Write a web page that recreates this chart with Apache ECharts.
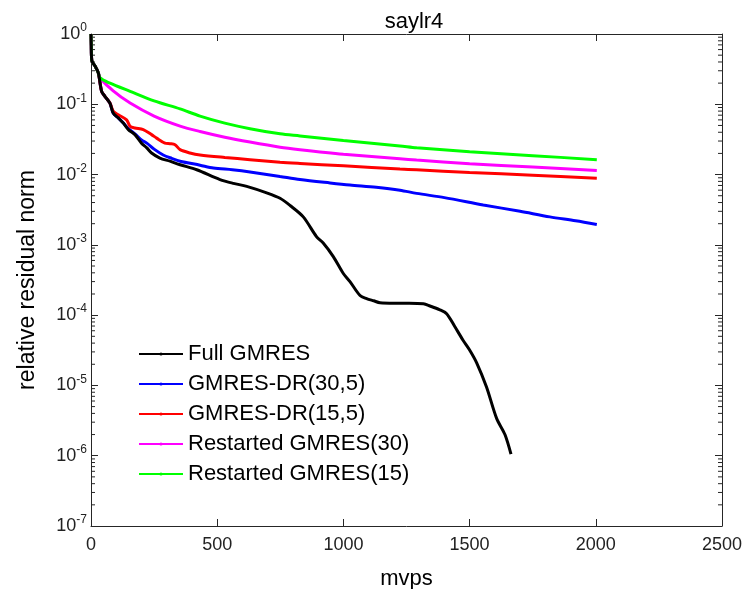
<!DOCTYPE html>
<html>
<head>
<meta charset="utf-8">
<script src="https://cdn.jsdelivr.net/npm/echarts@6/dist/echarts.min.js"></script>
<style>
  html, body { margin: 0; padding: 0; background: #fff; }
  #main { width: 743px; height: 589px; }
</style>
</head>
<body>
<div id="main"></div>
<script>
// x = mvps, y = relative residual norm
const fullX = [0, 1, 3, 16, 29, 42, 55, 75, 88, 108, 128, 148, 174, 200, 221, 240, 273, 313, 353, 419, 511, 564, 617, 696, 749, 790, 841, 894, 920, 960, 999, 1026, 1066, 1092, 1120, 1145, 1200, 1260, 1317, 1343, 1380, 1409, 1440, 1474, 1500, 1528, 1567, 1607, 1640, 1664]
const fullY = [1, 0.7, 0.42, 0.35, 0.28, 0.153, 0.13, 0.104, 0.075, 0.064, 0.054, 0.0436, 0.037, 0.028, 0.024, 0.0203, 0.0172, 0.0155, 0.0138, 0.0117, 0.0085, 0.0075, 0.0068, 0.0055, 0.0046, 0.0036, 0.0025, 0.0013, 0.00106, 0.00068, 0.000395, 0.0003, 0.00019, 0.000172, 0.00016, 0.00015, 0.000148, 0.000148, 0.000145, 0.000135, 0.00012, 0.000105, 0.00007, 0.000044, 0.000032, 0.000021, 0.0000095, 0.0000034, 0.000002, 0.00000105]

const dr30X = [0, 1, 3, 16, 29, 42, 55, 75, 88, 108, 128, 148, 174, 200, 221, 250, 286, 320, 353, 432, 485, 560, 630, 749, 828, 947, 1026, 1130, 1224, 1290, 1400, 1554, 1700, 1818, 1920, 2004]
const dr30Y = [1, 0.7, 0.42, 0.35, 0.28, 0.153, 0.13, 0.104, 0.075, 0.064, 0.054, 0.045, 0.038, 0.031, 0.028, 0.023, 0.019, 0.017, 0.0155, 0.0136, 0.0124, 0.0117, 0.0109, 0.0094, 0.0085, 0.0076, 0.0071, 0.0066, 0.006, 0.0054, 0.0047, 0.0037, 0.003, 0.0025, 0.0022, 0.00195]

const dr15X = [0, 1, 3, 16, 29, 42, 55, 75, 88, 108, 141, 155, 174, 207, 240, 260, 293, 313, 333, 353, 392, 432, 530, 630, 749, 828, 1000, 1224, 1290, 1500, 1750, 2004]
const dr15Y = [1, 0.7, 0.42, 0.35, 0.28, 0.153, 0.13, 0.104, 0.08, 0.071, 0.06, 0.0485, 0.046, 0.0436, 0.037, 0.033, 0.028, 0.0275, 0.0266, 0.0226, 0.0203, 0.019, 0.0175, 0.0163, 0.015, 0.0144, 0.0133, 0.012, 0.0117, 0.0107, 0.0098, 0.0089]

const re30X = [0, 1, 3, 16, 29, 36, 88, 155, 250, 353, 432, 530, 630, 749, 828, 1000, 1224, 1290, 1500, 1750, 2004]
const re30Y = [1, 0.7, 0.42, 0.35, 0.28, 0.237, 0.155, 0.104, 0.068, 0.049, 0.041, 0.034, 0.029, 0.0245, 0.0226, 0.0195, 0.0168, 0.0161, 0.0143, 0.0128, 0.0114]

const re15X = [0, 1, 3, 16, 29, 36, 75, 155, 250, 353, 432, 530, 630, 749, 828, 1000, 1224, 1290, 1500, 1750, 2004]
const re15Y = [1, 0.7, 0.42, 0.35, 0.28, 0.237, 0.2, 0.153, 0.112, 0.086, 0.068, 0.054, 0.045, 0.038, 0.0355, 0.0305, 0.0255, 0.024, 0.0212, 0.0186, 0.0163]

const seriesNames = ['Full GMRES', 'GMRES-DR(30,5)', 'GMRES-DR(15,5)', 'Restarted GMRES(30)', 'Restarted GMRES(15)']

const FONT = '"Liberation Sans", Arial, sans-serif'
const AXIS_COLOR = '#262626'

function pairs (xs, ys) {
  return xs.map((x, i) => [x, ys[i]])
}

// minor ticks for the log axis (2..9 x 10^k)
const minorVals = []
for (let k = -7; k < 0; k++) {
  for (let m = 2; m <= 9; m++) minorVals.push([0, m * Math.pow(10, k)])
}

const chart = echarts.init(document.getElementById('main'))

const lineSeries = (name, data, color, z) => ({
  name: name,
  type: 'line',
  data: data,
  z: z,
  showSymbol: false,
  symbol: 'circle',
  symbolSize: 3,
  smooth: 0.3,
  lineStyle: { width: 3, color: color },
  itemStyle: { color: color },
  emphasis: { disabled: true },
  xAxisIndex: 0,
  yAxisIndex: 0
})

const axisLine = { show: true, onZero: false, lineStyle: { color: AXIS_COLOR, width: 1 } }
const axisTick = { show: true, inside: true, length: 7, lineStyle: { color: AXIS_COLOR } }

const option = {
  animation: false,
  textStyle: { fontFamily: FONT },
  title: {
    text: 'saylr4',
    left: 409,
    top: 6,
    textAlign: 'center',
    textStyle: { fontFamily: FONT, fontSize: 22, fontWeight: 'normal', color: '#000' }
  },
  legend: {
    data: seriesNames,
    orient: 'vertical',
    left: 138,
    top: 343,
    padding: 0,
    itemWidth: 44,
    itemHeight: 4,
    itemGap: 8,
    textStyle: { fontFamily: FONT, fontSize: 22, lineHeight: 22, color: '#000' }
  },
  grid: { left: 91, right: 21, top: 34, bottom: 63, containLabel: false, outerBoundsMode: 'none' },
  xAxis: [
    {
      type: 'value',
      position: 'bottom',
      min: 0,
      max: 2500,
      interval: 500,
      name: 'mvps',
      nameLocation: 'middle',
      nameGap: 42,
      nameTextStyle: { fontFamily: FONT, fontSize: 22, color: '#000' },
      axisLine: axisLine,
      axisTick: axisTick,
      axisLabel: { fontFamily: FONT, fontSize: 18, color: '#222', margin: 10, formatter: v => String(v) },
      splitLine: { show: false }
    },
    {
      type: 'value',
      position: 'top',
      min: 0,
      max: 2500,
      interval: 500,
      axisLine: axisLine,
      axisTick: axisTick,
      axisLabel: { show: false },
      splitLine: { show: false }
    }
  ],
  yAxis: [
    {
      type: 'log',
      logBase: 10,
      position: 'left',
      min: 1e-7,
      max: 1,
      name: 'relative residual norm',
      nameLocation: 'middle',
      nameGap: 52,
      nameTextStyle: { fontFamily: FONT, fontSize: 23, color: '#000' },
      axisLine: axisLine,
      axisTick: axisTick,
      axisLabel: {
        margin: 4,
        formatter: v => '10{sup|' + Math.round(Math.log10(v)) + '}',
        rich: {
          sup: { fontFamily: FONT, fontSize: 12, verticalAlign: 'top', lineHeight: 24, color: '#222' }
        },
        fontFamily: FONT,
        fontSize: 18,
        lineHeight: 24,
        color: '#222'
      },
      splitLine: { show: false }
    },
    {
      type: 'log',
      logBase: 10,
      position: 'right',
      min: 1e-7,
      max: 1,
      axisLine: axisLine,
      axisTick: axisTick,
      axisLabel: { show: false },
      splitLine: { show: false }
    }
  ],
  series: [
    {
      name: 'minor',
      type: 'custom',
      silent: true,
      xAxisIndex: 0,
      yAxisIndex: 0,
      data: minorVals,
      renderItem: (params, api) => {
        const v = api.value(1)
        const l = api.coord([0, v])
        const r = api.coord([2500, v])
        return {
          type: 'group',
          children: [
            { type: 'line', shape: { x1: l[0], y1: l[1], x2: l[0] + 4, y2: l[1] }, style: { stroke: AXIS_COLOR, lineWidth: 1 } },
            { type: 'line', shape: { x1: r[0], y1: r[1], x2: r[0] - 4, y2: r[1] }, style: { stroke: AXIS_COLOR, lineWidth: 1 } }
          ]
        }
      }
    },
    lineSeries(seriesNames[0], pairs(fullX, fullY), '#000000', 4),
    lineSeries(seriesNames[1], pairs(dr30X, dr30Y), '#0000ff', 3),
    lineSeries(seriesNames[2], pairs(dr15X, dr15Y), '#ff0000', 3),
    lineSeries(seriesNames[3], pairs(re30X, re30Y), '#ff00ff', 3),
    lineSeries(seriesNames[4], pairs(re15X, re15Y), '#00ff00', 3)
  ]
}

chart.setOption(option)
</script>
</body>
</html>
